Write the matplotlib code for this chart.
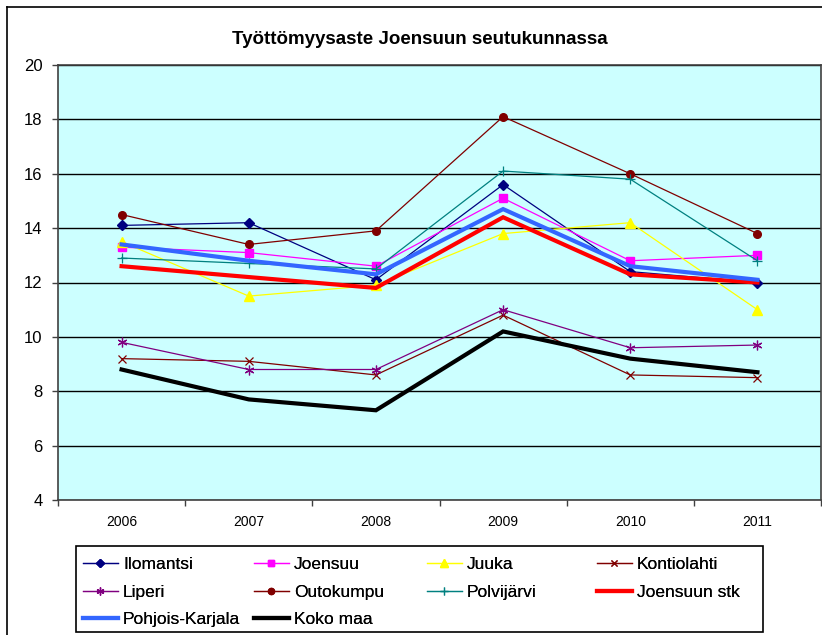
import matplotlib
matplotlib.use("Agg")
import matplotlib.pyplot as plt
from matplotlib.lines import Line2D
from matplotlib.patches import Rectangle
from matplotlib.ticker import FixedLocator, NullFormatter

plt.rcParams['font.family'] = ['Liberation Sans', 'DejaVu Sans']

years = ['2006', '2007', '2008', '2009', '2010', '2011']

ilomantsi = [14.1, 14.2, 12.1, 15.6, 12.4, 12.0]
joensuu = [13.3, 13.1, 12.6, 15.1, 12.8, 13.0]
juuka = [13.5, 11.5, 11.9, 13.8, 14.2, 11.0]
kontiolahti = [9.2, 9.1, 8.6, 10.8, 8.6, 8.5]
liperi = [9.8, 8.8, 8.8, 11.0, 9.6, 9.7]
outokumpu = [14.5, 13.4, 13.9, 18.1, 16.0, 13.8]
polvijarvi = [12.9, 12.7, 12.5, 16.1, 15.8, 12.8]
joensuun_stk = [12.6, 12.2, 11.8, 14.4, 12.3, 12.0]
pohjois_karjala = [13.4, 12.8, 12.3, 14.7, 12.6, 12.1]
koko_maa = [8.8, 7.7, 7.3, 10.2, 9.2, 8.7]

y_ticks = [4, 6, 8, 10, 12, 14, 16, 18, 20]

series = [
    ('Ilomantsi', ilomantsi, dict(color='#000080', lw=0.9, marker='D', ms=5.5)),
    ('Joensuu', joensuu, dict(color='#FF00FF', lw=0.9, marker='s', ms=5.5)),
    ('Juuka', juuka, dict(color='#FFFF00', lw=0.9, marker='^', ms=7)),
    ('Kontiolahti', kontiolahti, dict(color='#800000', lw=0.9, marker='x', ms=6, mew=0.9)),
    ('Liperi', liperi, dict(color='#800080', lw=0.9, marker=(6, 2, 0), ms=7, mew=0.9)),
    ('Outokumpu', outokumpu, dict(color='#800000', lw=0.9, marker='o', ms=5.5)),
    ('Polvijärvi', polvijarvi, dict(color='#008080', lw=0.9, marker='+', ms=7, mew=0.9)),
    ('Joensuun stk', joensuun_stk, dict(color='#FF0000', lw=3.0)),
    ('Pohjois-Karjala', pohjois_karjala, dict(color='#3366FF', lw=3.0)),
    ('Koko maa', koko_maa, dict(color='#000000', lw=3.0)),
]

W, H = 822, 635
fig = plt.figure(figsize=(W / 100, H / 100), dpi=100)
fig.patch.set_facecolor('white')

def fx(px):
    return px / W

def fy(py):
    return 1 - py / H

ax = fig.add_axes([fx(58), fy(500), fx(821) - fx(58), fy(65) - fy(500)])
ax.set_facecolor('#CCFFFF')

x = list(range(len(years)))
handles = {}
for name, vals, st in series:
    st = dict(st)
    mew = st.pop('mew', None)
    kw = {}
    if mew is not None:
        kw['markeredgewidth'] = mew
    h, = ax.plot(x, vals, label=name, solid_joinstyle='miter', **st, **kw)
    handles[name] = h

ax.set_xlim(-0.5, len(years) - 0.5)
ax.set_ylim(4, 20)
ax.set_yticks(y_ticks)
ax.set_yticklabels([str(t) for t in y_ticks])
ax.grid(axis='y', color='black', lw=1.0)
ax.set_axisbelow(True)

ax.set_xticks(x)
ax.set_xticklabels(years)
ax.xaxis.set_minor_locator(FixedLocator([i - 0.5 for i in range(len(years) + 1)]))
ax.xaxis.set_minor_formatter(NullFormatter())
ax.tick_params(axis='x', which='major', length=0, labelsize=10, pad=11)
ax.tick_params(axis='x', which='minor', length=4, width=1, color='#404040', direction='out')
ax.tick_params(axis='y', length=4, width=1, color='#404040', labelsize=12, pad=7)

for sp in ax.spines.values():
    sp.set_color('#404040')
    sp.set_linewidth(1.2)

fig.text(fx(420), fy(39), 'Työttömyysaste Joensuun seutukunnassa',
         ha='center', va='center', fontsize=13.5, fontweight='bold')

# outer chart frame
fig.add_artist(Line2D([fx(7), fx(7)], [fy(7), 0], color='black', lw=1.2))
fig.add_artist(Line2D([fx(7), 1], [fy(7), fy(7)], color='black', lw=1.2))

# legend frame
fig.add_artist(Rectangle((fx(76), fy(632)), fx(763) - fx(76), fy(546) - fy(632),
                         fill=False, edgecolor='black', lw=1.2))

cols = [
    ['Ilomantsi', 'Liperi', 'Pohjois-Karjala'],
    ['Joensuu', 'Outokumpu', 'Koko maa'],
    ['Juuka', 'Polvijärvi'],
    ['Kontiolahti', 'Joensuun stk'],
]
col_x = [83, 254, 427, 597]
for names, cx in zip(cols, col_x):
    leg = fig.legend([handles[n] for n in names], names,
                     loc='upper left', bbox_to_anchor=(fx(cx), fy(557)),
                     frameon=False, fontsize=12.5, borderpad=0, borderaxespad=0,
                     handlelength=2.0, handletextpad=0.3, labelspacing=0.71,
                     markerscale=0.8)
    fig.add_artist(leg)

fig.savefig('out.png', dpi=100)
